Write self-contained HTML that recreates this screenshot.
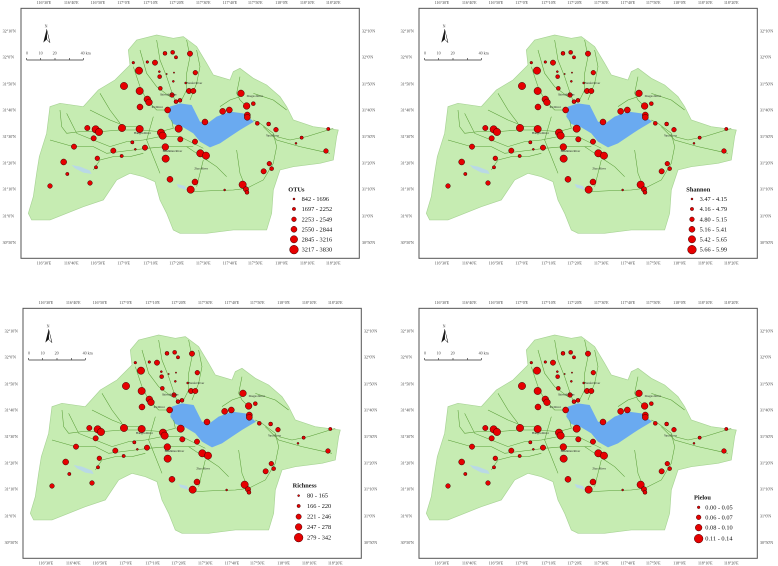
<!DOCTYPE html>
<html><head><meta charset="utf-8"><style>
html,body{margin:0;padding:0;background:#fff;width:778px;height:566px;overflow:hidden}
svg{display:block}
.t{font-family:"Liberation Serif",serif;font-size:12px;fill:#444}
.rn{font-family:"Liberation Serif",serif;font-size:9px;fill:#222}
.lg{font-family:"Liberation Serif",serif;font-size:19px;fill:#111}
.lt{font-family:"Liberation Serif",serif;font-size:19px;font-weight:bold;fill:#111}
</style></head><body>
<svg width="778" height="566" viewBox="0 0 778 566" xmlns="http://www.w3.org/2000/svg">
<defs>
<g id="map">
<rect x="63" y="25" width="1015" height="750" fill="#fff" stroke="#555" stroke-width="3"/>
<polygon fill="#c6ecb2" stroke="#a9d496" stroke-width="2" points="85,640 100,590 110,520 118,470 140,400 150,320 180,310 250,320 295,270 345,240 390,195 385,150 410,120 470,105 520,115 550,110 590,140 620,190 640,225 690,240 700,215 720,205 760,235 800,255 840,290 860,320 880,360 940,380 1015,390 1010,410 1000,480 960,490 880,500 840,510 820,570 815,640 800,690 760,690 700,690 620,700 540,700 520,690 500,640 480,600 465,545 430,530 390,520 350,540 330,570 310,600 250,620 200,640 150,660 95,660"/>
<polygon fill="#6aaaf0" points="510,320 540,310 575,315 585,335 600,365 620,372 650,350 690,335 730,340 762,365 740,378 720,390 690,410 660,430 630,442 600,425 580,400 550,382 520,372 505,350"/>
<polygon fill="#b9d9e6" points="215,495 240,500 270,512 275,522 250,518 225,505"/>
<polygon fill="#b9d9e6" points="530,552 555,558 560,570 535,562"/>
<g fill="none" stroke="#5a9e38" stroke-width="1.6">
<polyline points="180,330 185,380 200,400 240,395 300,395 360,390 420,390 480,395 520,385 515,360"/>
<polyline points="200,340 230,400 280,420 330,440 380,425 430,420 480,410 540,410 580,430 610,445"/>
<polyline points="150,420 220,440 280,440 320,460 360,455 400,450 440,445 500,440 580,440"/>
<polyline points="270,330 330,360 380,380 420,380"/>
<polyline points="300,280 330,330 360,370"/>
<polyline points="400,200 420,260 440,300 470,330 500,330"/>
<polyline points="470,120 480,180 500,230 520,290 530,310"/>
<polyline points="560,120 570,170 560,220 560,270 545,300"/>
<polyline points="590,150 600,200 590,250 570,300"/>
<polyline points="420,150 440,220 470,260 510,290"/>
<polyline points="460,350 440,420 460,470 480,520"/>
<polyline points="560,440 590,460 620,480 650,500 680,530"/>
<polyline points="580,575 640,572 700,570 740,565 790,540 820,490 830,440 820,400 780,370 760,360"/>
<polyline points="710,450 720,520 740,570"/>
<polyline points="790,380 830,420 900,440 990,460"/>
<polyline points="830,410 870,420 920,410 1000,385"/>
<polyline points="720,230 710,280 720,300 740,320"/>
<polyline points="760,280 820,300 860,330"/>
<polyline points="660,320 690,300 720,290"/>
<polyline points="430,460 390,470 340,470 300,480 280,510"/>
<polyline points="610,480 600,520 590,560"/>
</g>
<g fill="#e60000" stroke="#3a0000" stroke-width="1.5">
<circle cx="495" cy="160" r="6"/><circle cx="518" cy="157" r="6"/><circle cx="528" cy="172" r="5"/><circle cx="570" cy="161" r="8"/><circle cx="400" cy="188" r="4"/><circle cx="442" cy="186" r="4"/><circle cx="465" cy="188" r="8"/><circle cx="417" cy="212" r="11"/><circle cx="478" cy="215" r="3"/><circle cx="500" cy="222" r="2"/><circle cx="522" cy="218" r="2"/><circle cx="586" cy="218" r="7"/><circle cx="479" cy="230" r="6"/><circle cx="520" cy="244" r="3"/><circle cx="557" cy="249" r="3"/><circle cx="372" cy="258" r="11"/><circle cx="419" cy="273" r="11"/><circle cx="481" cy="265" r="6"/><circle cx="567" cy="273" r="8"/><circle cx="580" cy="273" r="8"/><circle cx="516" cy="285" r="7"/><circle cx="528" cy="305" r="6"/><circle cx="540" cy="301" r="6"/><circle cx="442" cy="298" r="10"/><circle cx="447" cy="307" r="10"/><circle cx="420" cy="321" r="9"/><circle cx="503" cy="330" r="9"/><circle cx="723" cy="280" r="10"/><circle cx="740" cy="318" r="10"/><circle cx="760" cy="311" r="6"/><circle cx="668" cy="334" r="9"/><circle cx="688" cy="330" r="9"/><circle cx="742" cy="345" r="9"/><circle cx="742" cy="352" r="9"/><circle cx="615" cy="366" r="9"/><circle cx="772" cy="370" r="6"/><circle cx="806" cy="372" r="6"/><circle cx="828" cy="389" r="7"/><circle cx="985" cy="387" r="5"/><circle cx="905" cy="413" r="5"/><circle cx="888" cy="430" r="3"/><circle cx="978" cy="453" r="7"/><circle cx="262" cy="384" r="8"/><circle cx="287" cy="388" r="11"/><circle cx="297" cy="396" r="11"/><circle cx="366" cy="384" r="11"/><circle cx="419" cy="387" r="11"/><circle cx="483" cy="398" r="11"/><circle cx="488" cy="407" r="11"/><circle cx="536" cy="386" r="11"/><circle cx="541" cy="418" r="8"/><circle cx="585" cy="425" r="8"/><circle cx="281" cy="415" r="8"/><circle cx="222" cy="440" r="8"/><circle cx="340" cy="452" r="8"/><circle cx="365" cy="468" r="5"/><circle cx="397" cy="427" r="5"/><circle cx="406" cy="448" r="3"/><circle cx="435" cy="443" r="8"/><circle cx="496" cy="441" r="10"/><circle cx="497" cy="476" r="11"/><circle cx="601" cy="460" r="11"/><circle cx="618" cy="467" r="11"/><circle cx="292" cy="475" r="7"/><circle cx="288" cy="502" r="5"/><circle cx="191" cy="486" r="9"/><circle cx="202" cy="522" r="5"/><circle cx="150" cy="558" r="7"/><circle cx="270" cy="549" r="7"/><circle cx="510" cy="538" r="9"/><circle cx="585" cy="546" r="9"/><circle cx="572" cy="569" r="11"/><circle cx="674" cy="570" r="3"/><circle cx="728" cy="554" r="11"/><circle cx="738" cy="568" r="8"/><circle cx="741" cy="577" r="6"/><circle cx="808" cy="491" r="7"/><circle cx="815" cy="506" r="6"/><circle cx="791" cy="514" r="8"/>
</g>
<g stroke="#333" stroke-width="2" fill="none"><polyline points="80,180 250,180"/><line x1="80" y1="174" x2="80" y2="180"/><line x1="122" y1="174" x2="122" y2="180"/><line x1="165" y1="174" x2="165" y2="180"/><line x1="208" y1="174" x2="208" y2="180"/><line x1="250" y1="174" x2="250" y2="180"/></g>
<polygon points="140,88 130,128 140,118 150,128" fill="#111"/>
<polygon points="140,88 140,118 150,128" fill="#fff" stroke="#111" stroke-width="1.5"/>
</g>
</defs>

<g transform="scale(0.3333)">
<use href="#map"/>
<g class="t"><text x="110" y="12">116°30'E</text><text x="192" y="12">116°40'E</text><text x="272" y="12">116°50'E</text><text x="352" y="12">117°0'E</text><text x="430" y="12">117°10'E</text><text x="508" y="12">117°20'E</text><text x="588" y="12">117°30'E</text><text x="668" y="12">117°40'E</text><text x="744" y="12">117°50'E</text><text x="826" y="12">118°0'E</text><text x="900" y="12">118°10'E</text><text x="978" y="12">118°20'E</text>
<text x="110" y="794">116°30'E</text><text x="192" y="794">116°40'E</text><text x="272" y="794">116°50'E</text><text x="352" y="794">117°0'E</text><text x="430" y="794">117°10'E</text><text x="508" y="794">117°20'E</text><text x="588" y="794">117°30'E</text><text x="668" y="794">117°40'E</text><text x="744" y="794">117°50'E</text><text x="826" y="794">118°0'E</text><text x="900" y="794">118°10'E</text><text x="978" y="794">118°20'E</text>
<text x="8" y="97">32°10'N</text><text x="8" y="176">32°0'N</text><text x="8" y="256">31°50'N</text><text x="8" y="334">31°40'N</text><text x="8" y="414">31°30'N</text><text x="8" y="494">31°20'N</text><text x="8" y="572">31°10'N</text><text x="8" y="652">31°0'N</text><text x="8" y="732">30°50'N</text>
<text x="1086" y="97">32°10'N</text><text x="1086" y="176">32°0'N</text><text x="1086" y="256">31°50'N</text><text x="1086" y="334">31°40'N</text><text x="1086" y="414">31°30'N</text><text x="1086" y="494">31°20'N</text><text x="1086" y="572">31°10'N</text><text x="1086" y="652">31°0'N</text><text x="1086" y="732">30°50'N</text>
<text x="134" y="82">N</text><text x="78" y="164">0</text><text x="116" y="164">10</text><text x="158" y="164">20</text><text x="242" y="164">40 km</text></g>
<g class="rn"><text x="560" y="252">Nanfei River</text><text x="480" y="287">Shiwuli River</text><text x="455" y="324">Pai River</text><text x="740" y="291">Zhegao River</text><text x="402" y="402">Hangbu River</text><text x="488" y="456">Baishitian River</text><text x="798" y="410">Yuxi River</text><text x="583" y="508">Zhao River</text></g>
<text class="lt" x="865" y="574">OTUs</text>
<g fill="#e60000" stroke="#3a0000" stroke-width="1.5"><circle cx="882" cy="597" r="3"/><circle cx="882" cy="627" r="5"/><circle cx="882" cy="658" r="7"/><circle cx="882" cy="688" r="9"/><circle cx="882" cy="718" r="11"/><circle cx="882" cy="749" r="13"/></g>
<g class="lg"><text x="905" y="603">842 - 1696</text><text x="905" y="633">1697 - 2252</text><text x="905" y="664">2253 - 2549</text><text x="905" y="694">2550 - 2844</text><text x="905" y="724">2845 - 3216</text><text x="905" y="755">3217 - 3830</text></g>
</g>

<g transform="translate(398,0) scale(0.3333)">
<use href="#map"/>
<g class="t"><text x="110" y="12">116°30'E</text><text x="192" y="12">116°40'E</text><text x="272" y="12">116°50'E</text><text x="352" y="12">117°0'E</text><text x="430" y="12">117°10'E</text><text x="508" y="12">117°20'E</text><text x="588" y="12">117°30'E</text><text x="668" y="12">117°40'E</text><text x="744" y="12">117°50'E</text><text x="826" y="12">118°0'E</text><text x="900" y="12">118°10'E</text><text x="978" y="12">118°20'E</text>
<text x="110" y="794">116°30'E</text><text x="192" y="794">116°40'E</text><text x="272" y="794">116°50'E</text><text x="352" y="794">117°0'E</text><text x="430" y="794">117°10'E</text><text x="508" y="794">117°20'E</text><text x="588" y="794">117°30'E</text><text x="668" y="794">117°40'E</text><text x="744" y="794">117°50'E</text><text x="826" y="794">118°0'E</text><text x="900" y="794">118°10'E</text><text x="978" y="794">118°20'E</text>
<text x="8" y="97">32°10'N</text><text x="8" y="176">32°0'N</text><text x="8" y="256">31°50'N</text><text x="8" y="334">31°40'N</text><text x="8" y="414">31°30'N</text><text x="8" y="494">31°20'N</text><text x="8" y="572">31°10'N</text><text x="8" y="652">31°0'N</text><text x="8" y="732">30°50'N</text>
<text x="1086" y="97">32°10'N</text><text x="1086" y="176">32°0'N</text><text x="1086" y="256">31°50'N</text><text x="1086" y="334">31°40'N</text><text x="1086" y="414">31°30'N</text><text x="1086" y="494">31°20'N</text><text x="1086" y="572">31°10'N</text><text x="1086" y="652">31°0'N</text><text x="1086" y="732">30°50'N</text>
<text x="134" y="82">N</text><text x="78" y="164">0</text><text x="116" y="164">10</text><text x="158" y="164">20</text><text x="242" y="164">40 km</text></g>
<g class="rn"><text x="560" y="252">Nanfei River</text><text x="480" y="287">Shiwuli River</text><text x="455" y="324">Pai River</text><text x="740" y="291">Zhegao River</text><text x="402" y="402">Hangbu River</text><text x="488" y="456">Baishitian River</text><text x="798" y="410">Yuxi River</text><text x="583" y="508">Zhao River</text></g>
<text class="lt" x="865" y="574">Shannon</text>
<g fill="#e60000" stroke="#3a0000" stroke-width="1.5"><circle cx="882" cy="597" r="3"/><circle cx="882" cy="627" r="5"/><circle cx="882" cy="658" r="7"/><circle cx="882" cy="688" r="9"/><circle cx="882" cy="718" r="11"/><circle cx="882" cy="749" r="13"/></g>
<g class="lg"><text x="905" y="603">3.47 - 4.15</text><text x="905" y="633">4.16 - 4.79</text><text x="905" y="664">4.80 - 5.15</text><text x="905" y="694">5.16 - 5.41</text><text x="905" y="724">5.42 - 5.65</text><text x="905" y="755">5.66 - 5.99</text></g>
</g>

<g transform="translate(2,300) scale(0.3333)">
<use href="#map"/>
<g class="t"><text x="110" y="12">116°30'E</text><text x="192" y="12">116°40'E</text><text x="272" y="12">116°50'E</text><text x="352" y="12">117°0'E</text><text x="430" y="12">117°10'E</text><text x="508" y="12">117°20'E</text><text x="588" y="12">117°30'E</text><text x="668" y="12">117°40'E</text><text x="744" y="12">117°50'E</text><text x="826" y="12">118°0'E</text><text x="900" y="12">118°10'E</text><text x="978" y="12">118°20'E</text>
<text x="110" y="794">116°30'E</text><text x="192" y="794">116°40'E</text><text x="272" y="794">116°50'E</text><text x="352" y="794">117°0'E</text><text x="430" y="794">117°10'E</text><text x="508" y="794">117°20'E</text><text x="588" y="794">117°30'E</text><text x="668" y="794">117°40'E</text><text x="744" y="794">117°50'E</text><text x="826" y="794">118°0'E</text><text x="900" y="794">118°10'E</text><text x="978" y="794">118°20'E</text>
<text x="8" y="97">32°10'N</text><text x="8" y="176">32°0'N</text><text x="8" y="256">31°50'N</text><text x="8" y="334">31°40'N</text><text x="8" y="414">31°30'N</text><text x="8" y="494">31°20'N</text><text x="8" y="572">31°10'N</text><text x="8" y="652">31°0'N</text><text x="8" y="732">30°50'N</text>
<text x="1086" y="97">32°10'N</text><text x="1086" y="176">32°0'N</text><text x="1086" y="256">31°50'N</text><text x="1086" y="334">31°40'N</text><text x="1086" y="414">31°30'N</text><text x="1086" y="494">31°20'N</text><text x="1086" y="572">31°10'N</text><text x="1086" y="652">31°0'N</text><text x="1086" y="732">30°50'N</text>
<text x="134" y="82">N</text><text x="78" y="164">0</text><text x="116" y="164">10</text><text x="158" y="164">20</text><text x="242" y="164">40 km</text></g>
<g class="rn"><text x="560" y="252">Nanfei River</text><text x="480" y="287">Shiwuli River</text><text x="455" y="324">Pai River</text><text x="740" y="291">Zhegao River</text><text x="402" y="402">Hangbu River</text><text x="488" y="456">Baishitian River</text><text x="798" y="410">Yuxi River</text><text x="583" y="508">Zhao River</text></g>
<text class="lt" x="872" y="562">Richness</text>
<g fill="#e60000" stroke="#3a0000" stroke-width="1.5"><circle cx="890" cy="587" r="3"/><circle cx="890" cy="618" r="5"/><circle cx="890" cy="650" r="8"/><circle cx="890" cy="681" r="10"/><circle cx="890" cy="713" r="13"/></g>
<g class="lg"><text x="915" y="593">80 - 165</text><text x="915" y="624">166 - 220</text><text x="915" y="656">221 - 246</text><text x="915" y="687">247 - 278</text><text x="915" y="719">279 - 342</text></g>
</g>

<g transform="translate(398,300) scale(0.3333)">
<use href="#map"/>
<g class="t"><text x="110" y="12">116°30'E</text><text x="192" y="12">116°40'E</text><text x="272" y="12">116°50'E</text><text x="352" y="12">117°0'E</text><text x="430" y="12">117°10'E</text><text x="508" y="12">117°20'E</text><text x="588" y="12">117°30'E</text><text x="668" y="12">117°40'E</text><text x="744" y="12">117°50'E</text><text x="826" y="12">118°0'E</text><text x="900" y="12">118°10'E</text><text x="978" y="12">118°20'E</text>
<text x="110" y="794">116°30'E</text><text x="192" y="794">116°40'E</text><text x="272" y="794">116°50'E</text><text x="352" y="794">117°0'E</text><text x="430" y="794">117°10'E</text><text x="508" y="794">117°20'E</text><text x="588" y="794">117°30'E</text><text x="668" y="794">117°40'E</text><text x="744" y="794">117°50'E</text><text x="826" y="794">118°0'E</text><text x="900" y="794">118°10'E</text><text x="978" y="794">118°20'E</text>
<text x="8" y="97">32°10'N</text><text x="8" y="176">32°0'N</text><text x="8" y="256">31°50'N</text><text x="8" y="334">31°40'N</text><text x="8" y="414">31°30'N</text><text x="8" y="494">31°20'N</text><text x="8" y="572">31°10'N</text><text x="8" y="652">31°0'N</text><text x="8" y="732">30°50'N</text>
<text x="1086" y="97">32°10'N</text><text x="1086" y="176">32°0'N</text><text x="1086" y="256">31°50'N</text><text x="1086" y="334">31°40'N</text><text x="1086" y="414">31°30'N</text><text x="1086" y="494">31°20'N</text><text x="1086" y="572">31°10'N</text><text x="1086" y="652">31°0'N</text><text x="1086" y="732">30°50'N</text>
<text x="134" y="82">N</text><text x="78" y="164">0</text><text x="116" y="164">10</text><text x="158" y="164">20</text><text x="242" y="164">40 km</text></g>
<g class="rn"><text x="560" y="252">Nanfei River</text><text x="480" y="287">Shiwuli River</text><text x="455" y="324">Pai River</text><text x="740" y="291">Zhegao River</text><text x="402" y="402">Hangbu River</text><text x="488" y="456">Baishitian River</text><text x="798" y="410">Yuxi River</text><text x="583" y="508">Zhao River</text></g>
<text class="lt" x="888" y="599">Pielou</text>
<g fill="#e60000" stroke="#3a0000" stroke-width="1.5"><circle cx="902" cy="622" r="4"/><circle cx="902" cy="652" r="7"/><circle cx="902" cy="683" r="10"/><circle cx="902" cy="716" r="13"/></g>
<g class="lg"><text x="922" y="628">0.00 - 0.05</text><text x="922" y="658">0.06 - 0.07</text><text x="922" y="689">0.08 - 0.10</text><text x="922" y="722">0.11 - 0.14</text></g>
</g>
</svg>
</body></html>
